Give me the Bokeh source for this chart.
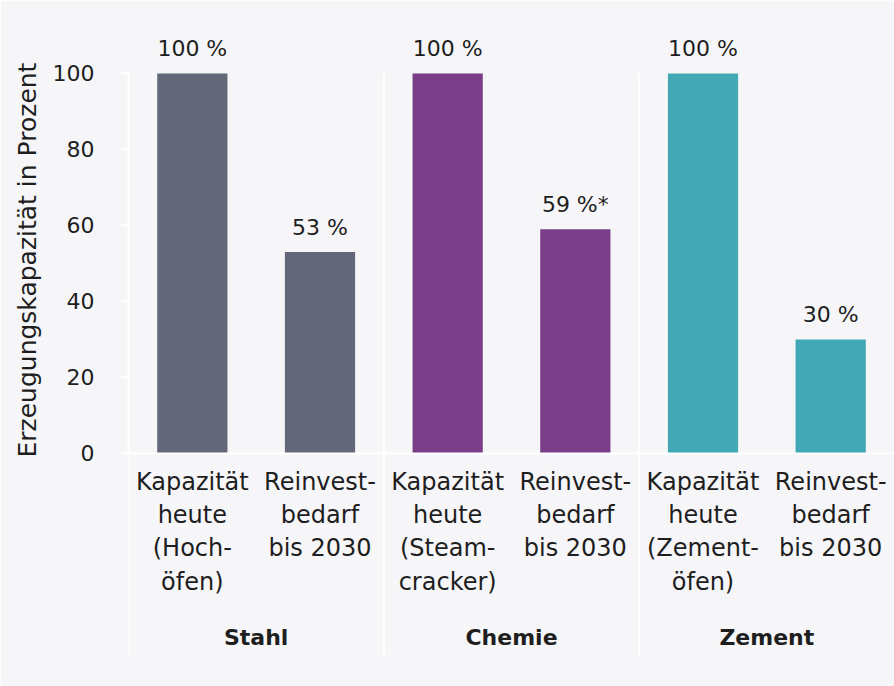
from bokeh.plotting import figure
from bokeh.models import FactorRange, Range1d, Span, ColumnDataSource, FixedTicker, Title
from bokeh.embed import file_html
from bokeh.resources import INLINE
from bokeh.core.properties import value

# ---- data ----
groups = ["Stahl", "Chemie", "Zement"]
sub_labels = [
    "Kapazität\nheute\n(Hoch-\nöfen)", "Reinvest-\nbedarf\nbis 2030",
    "Kapazität\nheute\n(Steam-\ncracker)", "Reinvest-\nbedarf\nbis 2030",
    "Kapazität\nheute\n(Zement-\nöfen)", "Reinvest-\nbedarf\nbis 2030",
]
bar_groups = ["Stahl", "Stahl", "Chemie", "Chemie", "Zement", "Zement"]
values = [100, 53, 100, 59, 100, 30]
value_labels = ["100 %", "53 %", "100 %", "59 %*", "100 %", "30 %"]
group_colors = {"Stahl": "#636878", "Chemie": "#7a3e89", "Zement": "#42a8b4"}
y_ticks = [0, 20, 40, 60, 80, 100]
y_title = "Erzeugungskapazität in Prozent"

BG = "#f6f6f9"
TXT = "#1e1e1e"
FONT = "DejaVu Sans"

factors = list(zip(bar_groups, sub_labels))
src = ColumnDataSource(dict(
    x=factors,
    top=values,
    lab=value_labels,
    sub=sub_labels,
    color=[group_colors[g] for g in bar_groups],
))
gsrc = ColumnDataSource(dict(x=groups, name=groups))

Y0 = -53.2
p = figure(
    width=894, height=686,
    x_range=FactorRange(*factors, factor_padding=0, group_padding=0, range_padding=0),
    y_range=Range1d(Y0, 113.95),
    x_axis_location=None,
    output_backend="svg", toolbar_location=None,
    min_border_left=128, min_border_right=0, min_border_top=20, min_border_bottom=31,
    background_fill_color=BG, border_fill_color=BG, outline_line_color=None,
)
p.grid.visible = False

# group separators (white) and baseline
n_per_group = len(factors) // len(groups)
sep_x = [i * n_per_group for i in range(len(groups))]
p.segment(x0=sep_x, x1=sep_x, y0=[Y0] * len(sep_x), y1=[max(y_ticks)] * len(sep_x),
          line_color="white", line_width=2)
p.add_layout(Span(location=0, dimension="width", line_color="white", line_width=2))

p.vbar(x="x", top="top", bottom=0, width=0.55, source=src, fill_color="color", line_color=None)

# y axis
ax = p.yaxis[0]
ax.ticker = FixedTicker(ticks=y_ticks)
ax.bounds = (0, 100)
ax.axis_line_color = "white"
ax.axis_line_width = 2
ax.major_tick_line_color = "white"
ax.major_tick_line_width = 2
ax.major_tick_out = 8
ax.major_tick_in = 0
ax.minor_tick_line_color = None
ax.major_label_standoff = 26
ax.major_label_text_font = FONT
ax.major_label_text_font_size = "22px"
ax.major_label_text_color = TXT

p.add_layout(Title(text=y_title, align="left", offset=198, standoff=16,
                   text_font=FONT, text_font_size="25px", text_font_style="normal",
                   text_color=TXT), "left")

# value labels above bars
p.text(x="x", y="top", text="lab", source=src, y_offset=-25,
       text_align="center", text_baseline="middle",
       text_font=value(FONT), text_font_size="22px", text_color=TXT)

# category labels
p.text(x="x", y=0, text="sub", source=src, y_offset=15,
       text_align="center", text_baseline="top", text_line_height=1.18,
       text_font=value(FONT), text_font_size="24px", text_color=TXT)

# group labels
p.text(x="x", y=0, text="name", source=gsrc, y_offset=184,
       text_align="center", text_baseline="middle", text_font_style="bold",
       text_font=value(FONT), text_font_size="22px", text_color=TXT)

open("out.html", "w").write(file_html(p, INLINE))
